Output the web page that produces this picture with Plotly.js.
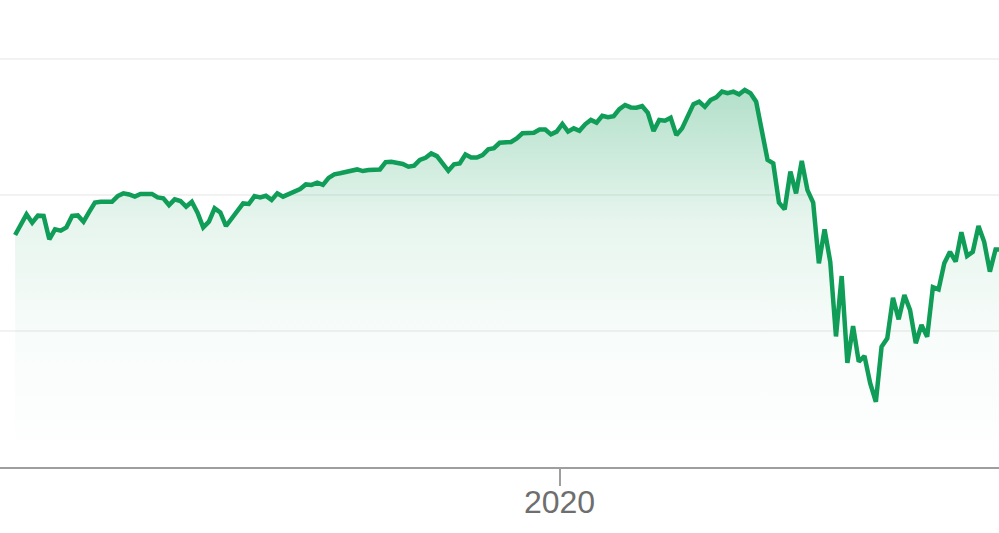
<!DOCTYPE html>
<html>
<head>
<meta charset="utf-8">
<script src="https://cdn.plot.ly/plotly-3.0.1.min.js"></script>
<style>html,body{margin:0;padding:0;background:#fff;}#chart{width:999px;height:533px;}</style>
</head>
<body>
<div id="chart"></div>
<script>
const dates = ['2019-08-15','2019-08-19','2019-08-20','2019-08-21','2019-08-22','2019-08-23','2019-08-26','2019-08-27','2019-08-28','2019-08-29','2019-08-30',
'2019-09-03','2019-09-04','2019-09-05','2019-09-06','2019-09-10','2019-09-11','2019-09-12','2019-09-13','2019-09-16','2019-09-17','2019-09-19','2019-09-20','2019-09-23','2019-09-24','2019-09-25','2019-09-26','2019-09-27','2019-09-30',
'2019-10-01','2019-10-02','2019-10-03','2019-10-04','2019-10-07','2019-10-08','2019-10-09','2019-10-10','2019-10-11','2019-10-14','2019-10-15','2019-10-16','2019-10-17','2019-10-18','2019-10-21','2019-10-22','2019-10-23','2019-10-24','2019-10-25','2019-10-28','2019-10-29','2019-10-30','2019-10-31',
'2019-11-01','2019-11-04','2019-11-05','2019-11-06','2019-11-08','2019-11-11','2019-11-12','2019-11-14','2019-11-15','2019-11-18','2019-11-20','2019-11-21','2019-11-22','2019-11-25','2019-11-26','2019-11-27','2019-11-29',
'2019-12-03','2019-12-04','2019-12-05','2019-12-06','2019-12-09','2019-12-10','2019-12-11','2019-12-12','2019-12-13','2019-12-16','2019-12-18','2019-12-19','2019-12-20','2019-12-23','2019-12-24','2019-12-26','2019-12-27','2019-12-30','2019-12-31',
'2020-01-02','2020-01-03','2020-01-06','2020-01-07','2020-01-08','2020-01-09','2020-01-10','2020-01-13','2020-01-14','2020-01-15','2020-01-16','2020-01-17','2020-01-21','2020-01-22','2020-01-23','2020-01-24','2020-01-27','2020-01-28','2020-01-29','2020-01-30','2020-01-31',
'2020-02-03','2020-02-05','2020-02-06','2020-02-07','2020-02-10','2020-02-11','2020-02-12','2020-02-13','2020-02-14','2020-02-18','2020-02-19','2020-02-20','2020-02-21','2020-02-25','2020-02-26','2020-02-27','2020-02-28',
'2020-03-02','2020-03-03','2020-03-04','2020-03-05','2020-03-06','2020-03-09','2020-03-10','2020-03-11','2020-03-12','2020-03-13','2020-03-16','2020-03-17','2020-03-18','2020-03-19','2020-03-20','2020-03-23','2020-03-24','2020-03-25','2020-03-26','2020-03-27','2020-03-30','2020-03-31',
'2020-04-01','2020-04-02','2020-04-03','2020-04-06','2020-04-07','2020-04-08','2020-04-09','2020-04-13','2020-04-14','2020-04-15','2020-04-16','2020-04-17','2020-04-20','2020-04-21','2020-04-22','2020-04-23'];

const closes = [2853,2929,2898,2924,2923,2837,2874,2869,2881,2923,2925,
2902,2938,2972,2975,2975,2996,3006,3002,2994,3004,3004,2991,2988,2963,2984,2978,2957,2975,
2935,2881,2902,2951,2936,2886,2914,2936,2969,2967,2996,2991,2997,2982,3006,2994,3004,3010,3022,3039,3037,3045,3037,
3063,3076,3080,3086,3094,3088,3092,3094,3121,3122,3114,3104,3108,3129,3137,3153,3143,
3089,3113,3116,3149,3138,3138,3147,3168,3172,3192,3195,3208,3227,3229,3229,3241,3241,3223,3233,
3261,3233,3245,3236,3260,3276,3266,3291,3286,3290,3316,3331,3322,3321,3327,3302,3235,3276,3273,3284,3220,
3245,3334,3343,3324,3349,3359,3380,3374,3380,3370,3386,3374,3343,3129,3116,2972,2947,
3086,3006,3125,3018,2972,2749,2874,2754,2480,2702,2383,2518,2387,2408,2308,2240,2442,2473,2622,2543,2632,2577,
2455,2522,2479,2661,2653,2749,2791,2755,2863,2776,2791,2886,2828,2718,2800,2800];

const marketHolidays = ['2019-09-02','2019-11-28','2019-12-25','2020-01-01','2020-01-20','2020-02-17','2020-04-10'];
const tickDates = ['2019-12-31 12:00'];
const tickLabels = ['2020'];

const green = '#0f9d58';

const trace = {
  x: dates, y: closes, type: 'scatter', mode: 'lines',
  line: {color: green, width: 4.5, shape: 'linear'},
  fill: 'tozeroy',
  fillgradient: {
    type: 'vertical', start: 2000, stop: 3386,
    colorscale: [[0,'rgba(15,157,88,0)'],[0.35,'rgba(15,157,88,0.03)'],[0.65,'rgba(15,157,88,0.1)'],[1,'rgba(15,157,88,0.32)']]
  },
  hoverinfo: 'skip'
};

const layout = {
  width: 999, height: 533,
  margin: {l: 0, r: 0, t: 0, b: 66, pad: 0},
  paper_bgcolor: '#ffffff', plot_bgcolor: '#ffffff',
  showlegend: false,
  xaxis: {
    type: 'date',
    range: ['2019-08-12 08:24', '2020-04-22 14:24'],
    rangebreaks: [{bounds: ['sat', 'mon']}, {values: marketHolidays}],
    tickmode: 'array', tickvals: tickDates, ticktext: tickLabels,
    ticks: 'outside', ticklen: 17, tickwidth: 2, tickcolor: '#9e9e9e',
    ticklabelstandoff: -11,
    showline: true, linecolor: '#9e9e9e', linewidth: 2,
    showgrid: false, zeroline: false,
    tickfont: {family: 'Liberation Sans, Arial, sans-serif', size: 32, color: '#6e6e6e'}
  },
  yaxis: {
    range: [2000, 3716.9], tick0: 2000, dtick: 500,
    showticklabels: false, ticks: '',
    showgrid: true, gridcolor: '#f2f2f2', gridwidth: 2,
    zeroline: false, showline: false
  }
};

Plotly.newPlot('chart', [trace], layout, {displayModeBar: false, staticPlot: true});
</script>
</body>
</html>
